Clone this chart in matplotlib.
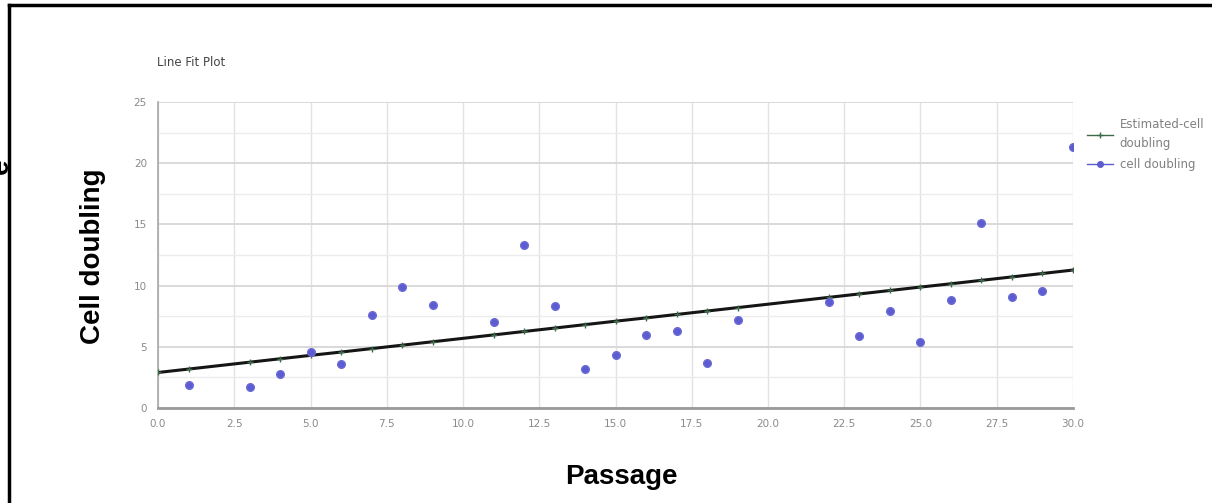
import matplotlib.pyplot as plt
from matplotlib.lines import Line2D

# ---------- data ----------
passage = [1, 3, 4, 5, 6, 7, 8, 9, 11, 12, 13, 14, 15, 16, 17, 18, 19,
           22, 23, 24, 25, 26, 27, 28, 29, 30]
cell_doubling = [1.9, 1.7, 2.75, 4.6, 3.6, 7.6, 9.9, 8.4, 7.0, 13.3, 8.3, 3.2, 4.35,
                 6.0, 6.25, 3.65, 7.2, 8.7, 5.9, 7.9, 5.4, 8.8, 15.1, 9.05, 9.55, 21.3]
est_passage = [0, 1, 3, 4, 5, 6, 7, 8, 9, 11, 12, 13, 14, 15, 16, 17, 18, 19,
               22, 23, 24, 25, 26, 27, 28, 29, 30]
est_doubling = [2.9, 3.18, 3.74, 4.02, 4.30, 4.57, 4.85, 5.13, 5.41, 5.97, 6.25, 6.53,
                6.81, 7.09, 7.36, 7.64, 7.92, 8.20, 9.04, 9.32, 9.60, 9.88, 10.15,
                10.43, 10.71, 10.99, 11.27]
x_ticks = [0, 2.5, 5, 7.5, 10, 12.5, 15, 17.5, 20, 22.5, 25, 27.5, 30]
y_ticks = [0, 5, 10, 15, 20, 25]

# ---------- figure ----------
fig = plt.figure(figsize=(12.12, 5.03), dpi=100)
ax = fig.add_axes([0.1304, 0.1889, 0.7549, 0.6083])

ax.plot(est_passage, est_doubling, color="#151515", lw=2.2, marker="+",
        ms=4, mec="#3d6b4a", zorder=3)
ax.plot(passage, cell_doubling, ls="none", marker="o", ms=5.5,
        color="#5c5cd0", mec="#6a6ad6", zorder=4)

ax.set_xlim(0, 30)
ax.set_ylim(0, 25)
ax.set_xticks(x_ticks)
ax.set_xticklabels([f"{t:.1f}" for t in x_ticks])
ax.set_yticks(y_ticks)
ax.set_yticks([2.5, 7.5, 12.5, 17.5, 22.5], minor=True)
ax.tick_params(axis="both", which="both", length=0, labelsize=7.5,
               labelcolor="#8a8a8a", pad=8)

ax.grid(axis="y", which="major", color="#d9d9d9", lw=1.4)
ax.grid(axis="y", which="minor", color="#ececec", lw=1.0)
ax.grid(axis="x", which="major", color="#e2e2e2", lw=1.0)
ax.set_axisbelow(True)

for s in ["top", "right"]:
    ax.spines[s].set_visible(False)
ax.spines["left"].set_color("#a8a8a8")
ax.spines["bottom"].set_color("#9a9a9a")
ax.spines["left"].set_linewidth(1.2)
ax.spines["bottom"].set_linewidth(2)

# small chart title
fig.text(157 / 1212, 1 - 63 / 503, "Line Fit Plot", fontsize=8.5,
         color="#444444", va="center", ha="left")

# legend outside on the right
handles = [
    Line2D([], [], color="#3d6b4a", lw=1, marker="+", ms=4),
    Line2D([], [], color="#5c5cd0", lw=1, marker="o", ms=4),
]
leg = ax.legend(handles, ["Estimated-cell\ndoubling", "cell doubling"],
                loc="upper left", bbox_to_anchor=(1.006, 0.975), frameon=False,
                fontsize=8.5, labelcolor="#808080", handlelength=2.2,
                handletextpad=0.6, labelspacing=0.7, borderpad=0.2)
for t in leg.get_texts():
    t.set_linespacing(1.6)

# big bold axis labels
fig.text(621 / 1212, 1 - 477 / 503, "Passage", fontsize=20, weight="bold",
         family="Liberation Sans", ha="center", va="center")
fig.text(93 / 1212, 1 - 256 / 503, "Cell doubling", fontsize=20, weight="bold",
         family="Liberation Sans", ha="center", va="center", rotation=90)
# clipped letter from the neighbouring panel
fig.text(1 / 1212, 1 - 166 / 503, "e", fontsize=20, weight="bold",
         family="Liberation Sans", ha="center", va="center", rotation=90)

# black frame (top and left edges visible)
fig.add_artist(Line2D([9 / 1212, 1.0], [1 - 5 / 503, 1 - 5 / 503],
                      color="black", lw=2.5, transform=fig.transFigure))
fig.add_artist(Line2D([9 / 1212, 9 / 1212], [0.0, 1 - 5 / 503],
                      color="black", lw=2.5, transform=fig.transFigure))

fig.savefig("out.png", dpi=100)
